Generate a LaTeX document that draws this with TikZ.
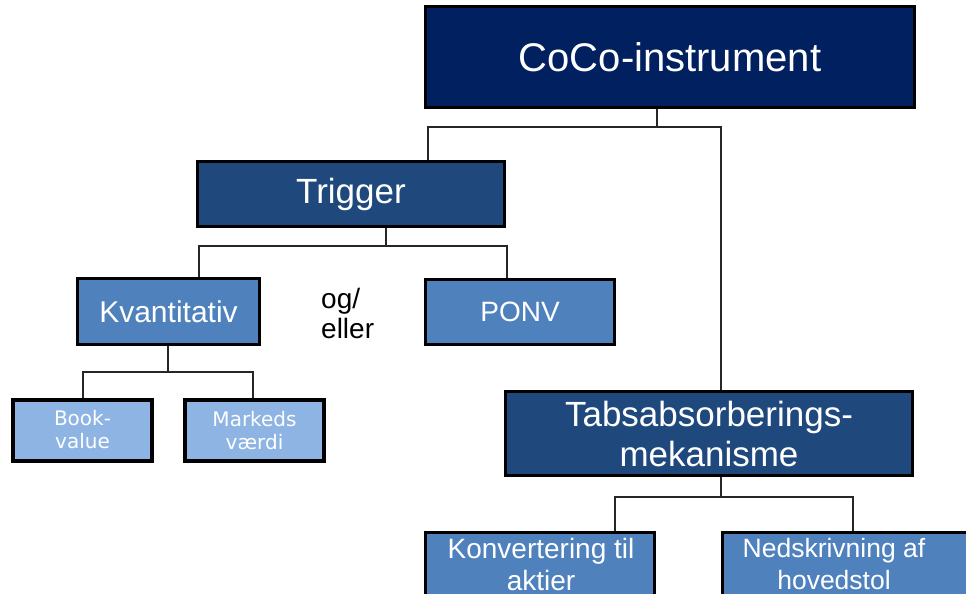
\documentclass[tikz,border=0pt]{standalone}
\usepackage{fontspec}
\setmainfont{Liberation Sans}
\newfontfamily\verdanalike{DejaVu Sans}
\definecolor{navy}{HTML}{002060}
\definecolor{midnavy}{HTML}{1F497D}
\definecolor{midblue}{HTML}{4F81BD}
\definecolor{lightblue}{HTML}{8DB4E2}
\tikzset{
  box/.style={draw=black, line width=3pt, text=white, align=center, inner sep=0pt},
  smallbox/.style={box, line width=4pt, fill=lightblue, minimum width=139pt, minimum height=61pt,
    font=\verdanalike\fontsize{20}{23}\selectfont},
  conn/.style={draw=black!85, line width=1.5pt},
  txt/.style={text=white, align=center, inner sep=0pt}
}
\begin{document}
\begin{tikzpicture}[x=1pt,y=-1pt]
\useasboundingbox (0,0) rectangle (966,594);
\clip (0,0) rectangle (966,594);
% boxes
\node[box, fill=navy, minimum width=489pt, minimum height=101pt, font=\fontsize{40}{44}\selectfont] (coco) at (670,57) {CoCo-instrument};
\node[box, fill=midnavy, minimum width=307pt, minimum height=65pt, font=\fontsize{35}{40}\selectfont] (trigger) at (351,194) {Trigger};
\node[box, fill=midblue, minimum width=182pt, minimum height=66pt, font=\fontsize{30}{33}\selectfont] (kvant) at (168.5,311.5) {Kvantitativ};
\node[box, fill=midblue, minimum width=189pt, minimum height=65pt, font=\fontsize{28}{32}\selectfont] (ponv) at (520,312) {PONV};
\node[anchor=west, align=left, inner sep=0pt, font=\fontsize{28}{30}\selectfont] (og) at (321,313) {og/\\eller};
\node[smallbox] (book) at (82.5,430) {Book-\\value};
\node[smallbox] (mark) at (254.5,430.5) {Markeds\\værdi};
\node[box, fill=midnavy, minimum width=407pt, minimum height=84pt, font=\fontsize{35}{40}\selectfont] (tabs) at (709,433.5) {Tabsabsorberings-\\mekanisme};
\node[box, fill=midblue, minimum width=229pt, minimum height=110pt, anchor=north] (konv) at (540,530.5) {};
\node[txt, font=\fontsize{28}{32}\selectfont] (konvtxt) at (541,564) {Konvertering til\\aktier};
\node[box, fill=midblue, minimum width=280pt, minimum height=110pt, anchor=north west] (neds) at (720.5,530.5) {};
\node[txt, font=\fontsize{26.5}{32}\selectfont] (nedstxt) at (834,564) {Nedskrivning af\\hovedstol};
% connectors
\coordinate (c0) at (657,127);
\coordinate (c1) at (428,127);
\coordinate (c2) at (721,127);
\draw[conn] (c0 |- coco.south) -- (c0);
\draw[conn] (c1 |- trigger.north) -- (c1) -- (c2) -- (c2 |- tabs.north);
\coordinate (t0) at (386,246);
\coordinate (t1) at (199,246);
\coordinate (t2) at (507,246);
\draw[conn] (t0 |- trigger.south) -- (t0);
\draw[conn] (t1 |- kvant.north) -- (t1) -- (t2) -- (t2 |- ponv.north);
\coordinate (k0) at (168,372);
\coordinate (k1) at (83,372);
\coordinate (k2) at (253,372);
\draw[conn] (k0 |- kvant.south) -- (k0);
\draw[conn] (k1 |- book.north) -- (k1) -- (k2) -- (k2 |- mark.north);
\coordinate (m0) at (721,497);
\coordinate (m1) at (615,497);
\coordinate (m2) at (853,497);
\draw[conn, line width=2pt] (m0 |- tabs.south) -- (m0);
\draw[conn, line width=2pt] (m1 |- konv.north) -- (m1) -- (m2) -- (m2 |- neds.north);
\end{tikzpicture}
\end{document}
